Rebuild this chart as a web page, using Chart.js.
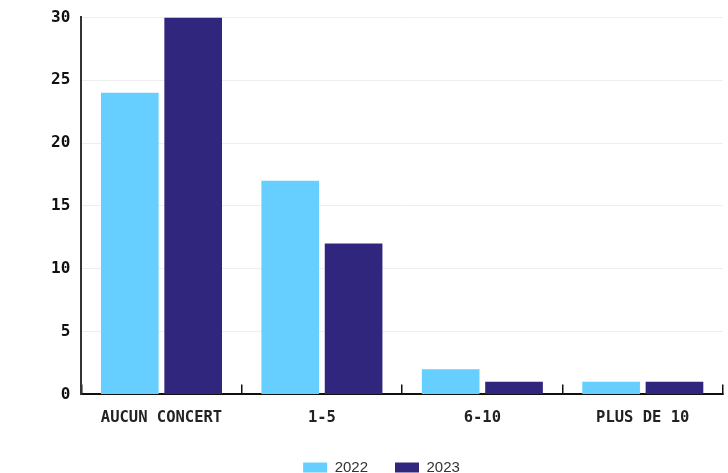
<!DOCTYPE html>
<html lang="fr">
<head>
    <meta charset="UTF-8">
    <title>Concerts</title>
    <script src="https://cdn.jsdelivr.net/npm/chart.js"></script>
    <style>
        html, body { margin: 0; padding: 0; background: #fff; }
        #chart-container { width: 728px; height: 473px; position: relative; }
    </style>
</head>
<body>
    <div id="chart-container">
        <canvas id="myChart"></canvas>
    </div>

    <script>
        const categories = ['AUCUN CONCERT', '1-5', '6-10', 'PLUS DE 10'];
        const values2022 = [24, 17, 2, 1];
        const values2023 = [30, 12, 1, 1];
        const yTicks = [0, 5, 10, 15, 20, 25, 30];

        const monoFont = { family: '"DejaVu Sans Mono", monospace', weight: 'bold', size: 15.5 };

        new Chart(document.getElementById('myChart'), {
            type: 'bar',
            data: {
                labels: categories,
                datasets: [{
                    label: '2022',
                    data: values2022,
                    backgroundColor: '#66cfff',
                    categoryPercentage: 0.79,
                    barPercentage: 0.91
                }, {
                    label: '2023',
                    data: values2023,
                    backgroundColor: '#30267e',
                    categoryPercentage: 0.79,
                    barPercentage: 0.91
                }]
            },
            options: {
                responsive: true,
                maintainAspectRatio: false,
                animation: false,
                layout: { padding: { top: 8, right: 5, left: 40, bottom: -12 } },
                plugins: {
                    legend: {
                        position: 'bottom',
                        labels: {
                            boxWidth: 24,
                            boxHeight: 10,
                            color: '#333',
                            font: { family: '"Liberation Sans", Arial, sans-serif', size: 15 },
                            padding: 27
                        }
                    },
                    tooltip: { enabled: false }
                },
                scales: {
                    x: {
                        border: { color: '#111', width: 2 },
                        grid: { drawOnChartArea: false, tickLength: -10, color: '#111', lineWidth: 1.5, offset: true },
                        ticks: { color: '#222', font: monoFont, padding: 24 },
                        afterFit: axis => { axis.height -= 18; }
                    },
                    y: {
                        min: 0,
                        max: 30,
                        afterBuildTicks: axis => { axis.ticks = yTicks.map(v => ({ value: v })); },
                        border: { color: '#333', width: 2 },
                        grid: { color: '#eeeeee', drawTicks: false },
                        ticks: { color: '#111', font: { family: '"DejaVu Sans Mono", monospace', weight: 'bold', size: 16, lineHeight: 0.8 }, padding: 11 }
                    }
                }
            }
        });
    </script>
</body>
</html>
